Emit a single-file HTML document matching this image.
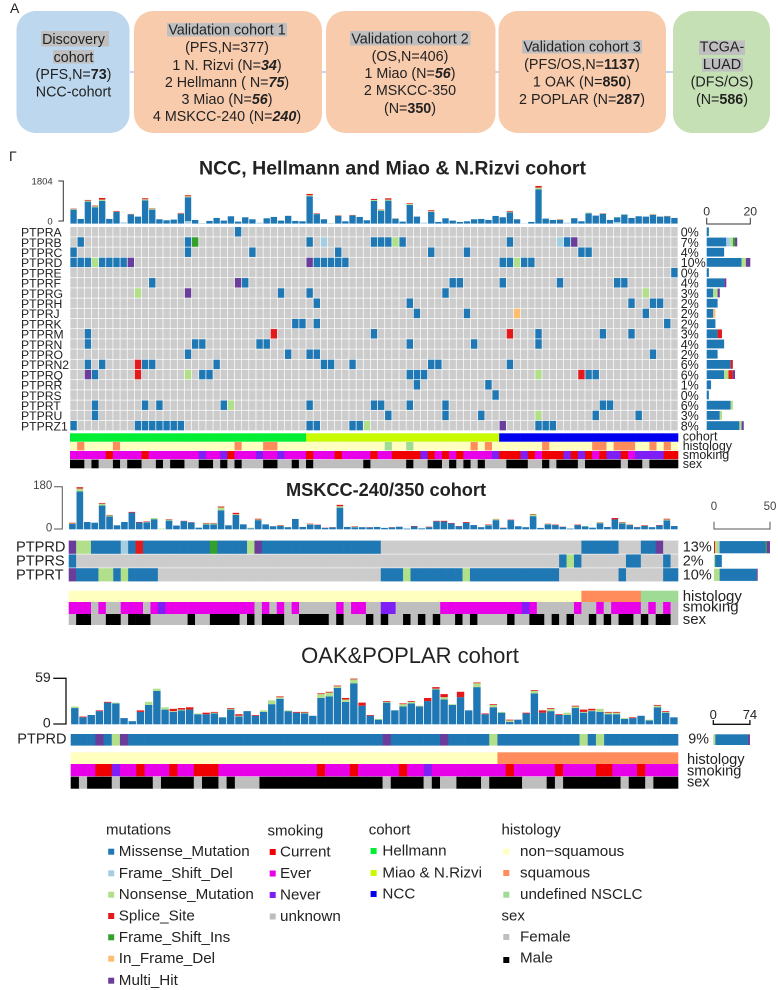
<!DOCTYPE html>
<html lang="en">
<head>
<meta charset="utf-8">
<title>Cohort overview and oncoplots</title>
<style>
html,body{margin:0;padding:0;background:#fff;}
svg{display:block;font-family:"Liberation Sans",Arial,sans-serif;filter:blur(0.3px);}
text{fill:#222;}
.box{font-size:14.3px;text-anchor:middle;}
.lg{font-size:15.2px;dominant-baseline:central;}
.lh{font-size:15px;dominant-baseline:central;}
</style>
</head>
<body>
<svg id="fig" xmlns="http://www.w3.org/2000/svg" width="778" height="990" viewBox="0 0 778 990">
  <text x="10" y="13" font-size="14">A</text>
  <text x="9" y="161" font-size="14">Γ</text>

  <g>
    <line x1="130" y1="72" x2="134" y2="72" stroke="#8FAADC"/>
    <line x1="322" y1="72" x2="326" y2="72" stroke="#8FAADC"/>
    <line x1="495" y1="72" x2="499" y2="72" stroke="#8FAADC"/>
    <line x1="666" y1="72" x2="673" y2="72" stroke="#8FAADC"/>

    <g>
      <rect x="16.5" y="11" width="113" height="122" rx="19" fill="#BDD7EE"/>
      <rect x="41" y="31" width="68" height="15.5" fill="#BFBFBF"/>
      <rect x="53" y="50" width="41" height="13.5" fill="#BFBFBF"/>
      <text class="box" x="73.5" y="44">Discovery</text>
      <text class="box" x="73.5" y="62">cohort</text>
      <text class="box" x="73.5" y="79">(PFS,N=<tspan font-weight="bold">73</tspan>)</text>
      <text class="box" x="73.5" y="96.5">NCC-cohort</text>
    </g>
    <g>
      <rect x="134" y="11" width="188" height="122" rx="19" fill="#F8CBAD"/>
      <rect x="167" y="23" width="120" height="13.5" fill="#BFBFBF"/>
      <text class="box" x="227" y="34.5">Validation cohort 1</text>
      <text class="box" x="227" y="52">(PFS,N=377)</text>
      <text class="box" x="227" y="70">1 N. Rizvi (N=<tspan font-weight="bold" font-style="italic">34</tspan>)</text>
      <text class="box" x="227" y="87">2 Hellmann ( N=<tspan font-weight="bold" font-style="italic">75</tspan>)</text>
      <text class="box" x="227" y="104">3 Miao (N=<tspan font-weight="bold" font-style="italic">56</tspan>)</text>
      <text class="box" x="227" y="121">4 MSKCC-240 (N=<tspan font-weight="bold" font-style="italic">240</tspan>)</text>
    </g>
    <g>
      <rect x="326" y="11" width="169.5" height="122" rx="19" fill="#F8CBAD"/>
      <rect x="350" y="31" width="120.5" height="14.5" fill="#BFBFBF"/>
      <text class="box" x="410" y="43.5">Validation cohort 2</text>
      <text class="box" x="410" y="61">(OS,N=406)</text>
      <text class="box" x="410" y="78">1 Miao (N=<tspan font-weight="bold" font-style="italic">56</tspan>)</text>
      <text class="box" x="410" y="95">2 MSKCC-350</text>
      <text class="box" x="410" y="113">(N=<tspan font-weight="bold">350</tspan>)</text>
    </g>
    <g>
      <rect x="498.5" y="11" width="167.5" height="122" rx="19" fill="#F8CBAD"/>
      <rect x="522" y="40" width="120" height="13.5" fill="#BFBFBF"/>
      <text class="box" x="582" y="51.5">Validation cohort 3</text>
      <text class="box" x="582" y="69">(PFS/OS,N=<tspan font-weight="bold">1137</tspan>)</text>
      <text class="box" x="582" y="86.5">1 OAK (N=<tspan font-weight="bold">850</tspan>)</text>
      <text class="box" x="582" y="104">2 POPLAR (N=<tspan font-weight="bold">287</tspan>)</text>
    </g>
    <g>
      <rect x="673" y="11" width="97" height="122" rx="19" fill="#C5E0B4"/>
      <rect x="699" y="40.5" width="46" height="14.5" fill="#BFBFBF"/>
      <rect x="702" y="58" width="41" height="13.5" fill="#BFBFBF"/>
      <text class="box" x="722" y="51.5">TCGA-</text>
      <text class="box" x="722" y="69">LUAD</text>
      <text class="box" x="722" y="86.5">(DFS/OS)</text>
      <text class="box" x="722" y="104">(N=<tspan font-weight="bold">586</tspan>)</text>
    </g>
  </g>

  <text x="392.5" y="174.5" text-anchor="middle" font-size="19" font-weight="bold" textLength="387" lengthAdjust="spacingAndGlyphs">NCC, Hellmann and Miao &amp; N.Rizvi cohort</text>
  <text x="386" y="496" text-anchor="middle" font-size="18.2" font-weight="bold">MSKCC-240/350 cohort</text>
  <text x="410" y="663" text-anchor="middle" font-size="22">OAK&amp;POPLAR cohort</text>

  <g id="panels"></g>

  <g>
    <g>
      <text class="lh" x="106" y="830">mutations</text>
      <rect x="108.2" y="848.7" width="6" height="6" fill="#1F78B4"/><text class="lg" x="118.8" y="851.7">Missense_Mutation</text>
      <rect x="108.2" y="870.3" width="6" height="6" fill="#A6CEE3"/><text class="lg" x="118.8" y="873.3">Frame_Shift_Del</text>
      <rect x="108.2" y="891.7" width="6" height="6" fill="#B2DF8A"/><text class="lg" x="118.8" y="894.7">Nonsense_Mutation</text>
      <rect x="108.2" y="913" width="6" height="6" fill="#E31A1C"/><text class="lg" x="118.8" y="916">Splice_Site</text>
      <rect x="108.2" y="934.3" width="6" height="6" fill="#33A02C"/><text class="lg" x="118.8" y="937.3">Frame_Shift_Ins</text>
      <rect x="108.2" y="955.7" width="6" height="6" fill="#FDBF6F"/><text class="lg" x="118.8" y="958.7">In_Frame_Del</text>
      <rect x="108.2" y="977.7" width="6" height="6" fill="#6A3D9A"/><text class="lg" x="118.8" y="980.7">Multi_Hit</text>
    </g>
    <g>
      <text class="lh" x="267.5" y="831">smoking</text>
      <rect x="269.7" y="849" width="6" height="6" fill="#F00000"/><text class="lg" x="280" y="852">Current</text>
      <rect x="269.7" y="870.5" width="6" height="6" fill="#E800E8"/><text class="lg" x="280" y="873.5">Ever</text>
      <rect x="269.7" y="892" width="6" height="6" fill="#7F1FF5"/><text class="lg" x="280" y="895">Never</text>
      <rect x="269.7" y="913.5" width="6" height="6" fill="#BEBEBE"/><text class="lg" x="280" y="916.5">unknown</text>
    </g>
    <g>
      <text class="lh" x="368.7" y="830">cohort</text>
      <rect x="370.6" y="848" width="6" height="6" fill="#00EE33"/><text class="lg" x="382.4" y="851">Hellmann</text>
      <rect x="370.6" y="870" width="6" height="6" fill="#C8FA00"/><text class="lg" x="382.4" y="873">Miao &amp; N.Rizvi</text>
      <rect x="370.6" y="891" width="6" height="6" fill="#0000EE"/><text class="lg" x="382.4" y="894">NCC</text>
    </g>
    <g>
      <text class="lh" x="501.5" y="830">histology</text>
      <rect x="503.3" y="848.7" width="6" height="6" fill="#FFFFC0"/><text class="lg" x="520" y="851.7">non−squamous</text>
      <rect x="503.3" y="870" width="6" height="6" fill="#FF8C5A"/><text class="lg" x="520" y="873">squamous</text>
      <rect x="503.3" y="891.7" width="6" height="6" fill="#9FDB95"/><text class="lg" x="520" y="894.7">undefined NSCLC</text>
    </g>
    <g>
      <text class="lh" x="501.5" y="916">sex</text>
      <rect x="503.3" y="934" width="6" height="6" fill="#BEBEBE"/><text class="lg" x="520" y="937">Female</text>
      <rect x="503.3" y="957" width="6" height="6" fill="#000"/><text class="lg" x="520" y="958">Male</text>
    </g>
  </g>
</svg>

<script>
// ---- Panel 1 data: NCC, Hellmann and Miao & N.Rizvi ----
const p1Genes = ['PTPRA','PTPRB','PTPRC','PTPRD','PTPRE','PTPRF','PTPRG','PTPRH','PTPRJ','PTPRK','PTPRM','PTPRN','PTPRO','PTPRN2','PTPRQ','PTPRR','PTPRS','PTPRT','PTPRU','PTPRZ1'];
const p1Percent = ['0%','7%','4%','10%','0%','4%','3%','2%','2%','2%','3%','4%','2%','6%','6%','1%','0%','6%','3%','8%'];
const p1Mutations = [
 '23M',
 '1M 16M 17I 33M 35D 42M 43M 44M 45N 46M 61M 68D 69M 70H',
 '0M 16M 25M 37M 50M 55M 71M 72M',
 '0M 1M 2M 3N 4M 5M 6M 7M 8H 33H 34M 35M 36M 37M 38M 60M 61M 62N 63M 64M',
 '84M',
 '11M 23H 24M 53M 54M 60M 68M 76M 77M',
 '9N 16H 29M 33M 52M 80N',
 '34M 47M 78M 81M 82M',
 '48M 55M 62F 80M',
 '31M 32M 34M 83M',
 '2M 28S 42M 61S 65M 74M 78M',
 '2M 17M 18M 26M 27M 47M 56M 65M',
 '16M 30M 33M 34M 81M',
 '2M 4M 9S 10M 11M 20M 35M 36M 39M 50M 51M 61M',
 '2H 3M 9S 16N 18M 19M 47M 48M 49M 65N 71S 72M 73M',
 '48M 58M',
 '59M',
 '3M 10M 12M 21M 22N 33M 42M 43M 47M 52M 74M 75M',
 '3M 44M 52M 57M 65N 73M 79M',
 '0M 9M 10M 11M 12M 13M 14M 15M 33M 34M 39M 40M 41N 60H 65M 66M 67M'
];
const p1Totals = [630,196,994,756,1078,196,532,56,406,294,1064,644,182,140,168,448,1190,154,28,112,238,126,308,84,266,182,42,224,280,126,336,112,98,1246,434,182,28,350,98,364,280,140,1036,588,1064,224,84,854,294,42,560,70,224,126,70,98,182,196,154,322,266,532,182,14,70,1582,210,154,182,42,238,98,462,336,434,154,280,392,238,308,294,392,294,322,238];
const p1Nonsense = [28,0,40,40,50,0,14,0,10,0,45,42,0,0,0,14,40,0,0,0,0,0,0,0,0,0,0,0,0,0,10,0,0,40,14,0,0,10,0,10,0,0,40,30,42,14,0,42,0,0,28,0,0,0,0,0,0,0,0,0,0,28,0,0,0,70,0,0,14,0,10,0,28,0,14,0,14,14,0,0,0,14,0,10,0];
const p1Splice = [14,0,30,28,70,0,28,0,14,0,42,14,0,0,0,20,42,0,0,0,0,0,0,0,0,0,0,0,0,0,0,0,0,56,20,0,0,14,0,14,0,0,42,14,56,0,0,28,0,0,40,0,0,0,0,0,0,0,0,0,0,30,0,0,0,70,0,0,10,0,0,0,0,0,14,0,0,0,0,0,0,10,0,10,0];
const p1FrameDel = [0,0,0,0,0,0,0,56,0,0,0,0,0,0,0,0,110,0,28,0,0,0,0,0,0,0,42,0,0,0,0,0,0,0,0,0,28,0,0,0,0,0,0,0,0,0,0,0,0,42,0,0,0,0,0,0,0,0,0,0,0,0,0,14,0,0,0,0,0,42,0,0,0,0,0,0,60,0,0,0,0,0,0,0,0];
const p1Cohort = 'H33 Y27 B25'.split(' ');
const p1Histology = 'N1 S1 N4 S1 N16 S1 N3 S2 N15 U1 N2 U1 N8 S1 N1 S1 N7 S1 N6 S2 N1 S3 N2 S1 N1 S1 N1'.split(' ');
const p1Smoking = 'E5 C1 E4 C1 E7 N1 E2 N1 C1 E3 N1 E2 N1 E3 C1 E3 C1 E4 C1 E2 C4 N1 C1 E1 C1 E1 C1 E4 N1 C3 N1 C1 E1 C3 N1 C1 N1 C1 E1 C1 N2 C1 E1 N4 C2'.split(' ');
const p1Sex = 'M2 F1 M1 F2 M1 F1 M2 F2 M1 F1 M2 F2 M2 F1 M1 F1 M1 F3 M2 F2 M1 F1 M1 F7 M1 F5 M1 F2 M2 F1 M1 F1 M1 F1 M1 F3 M3 F2 M1 F1 M3 F1 M5 F1 M2 F1 M4'.split(' ');
const p1YTicks = [0, 1804];
const p1SideTicks = [0, 20];

// ---- Panel 2 data: MSKCC-240/350 ----
const p2Genes = ['PTPRD','PTPRS','PTPRT'];
const p2Percent = ['13%','2%','10%'];
const p2Rows = [
 'H1 N2 M4 D1 M1 S1 M9 I1 M4 N1 H1 M16 .27 M5 .3 M2 H1 .2',
 'M1 .65 M1 N1 M1 .6 M2 .3 M1 .1',
 'H1 M3 N2 M1 N1 M4 .30 M3 N1 M7 N1 M12 .8 M1 .5 M2'
];
const p2Totals = [28,179,31,28,112,61,17,31,74,31,34,48,3,43,16,36,30,7,27,27,97,17,70,21,7,45,21,13,18,9,44,10,24,20,7,9,104,10,13,9,9,10,6,9,11,3,14,4,11,36,36,27,14,31,18,9,21,44,7,41,13,9,65,6,24,20,11,3,20,14,7,30,10,48,31,21,10,18,9,18,45,14];
const p2Nonsense = [2,12,0,0,8,4,0,0,0,0,2,5,3,4,0,0,0,0,4,4,12,0,3,0,3,3,0,0,2,0,0,0,2,0,0,0,6,0,2,0,0,0,0,0,0,0,0,0,0,0,0,0,0,0,0,0,2,4,0,0,0,0,7,0,2,0,0,0,0,2,0,3,0,0,4,2,0,2,0,0,4,0];
const p2Splice = [3,6,0,0,3,2,0,0,3,2,2,0,0,2,0,1,1,0,2,2,4,0,6,0,0,3,0,0,2,0,0,0,2,1,1,1,6,0,2,0,1,0,0,1,0,0,2,0,2,2,3,2,1,3,0,0,2,1,1,2,0,0,2,0,1,2,1,0,2,0,0,1,0,6,2,1,1,2,0,2,3,0];
const p2Histology = 'N69 S8 U5'.split(' ');
const p2Smoking = 'E3 U1 E1 U2 E3 U1 E1 N1 E12 U1 E1 U1 E1 U1 E1 U5 E1 U1 E2 U2 N2 U6 E11 N1 E1 U5 E1 U2 E1 U1 E4 U1 E1 U1 E1 U1'.split(' ');
const p2Sex = 'F1 M2 F2 M2 F1 M3 F5 M1 F2 M4 F1 M1 F1 M3 F2 M4 F1 M1 F3 M1 F1 M1 F2 M1 F1 M1 F1 M1 F2 M1 F1 M1 F4 M1 F2 M2 F1 M1 F1 M1 F2 M1 F1 M1 F1 M2 F1 M1 F1 M2 F1'.split(' ');
const p2YTicks = [0, 180];
const p2SideTicks = [0, 50];

// ---- Panel 3 data: OAK & POPLAR ----
const p3Genes = ['PTPRD'];
const p3Percent = ['9%'];
const p3Rows = ['M3 H1 M1 N1 H1 M31 H1 M6 H1 M5 N1 M10 N1 M1 N1 M9'];
const p3Totals = [23,10,12,18,29,28,8,4,18,29,46,22,20,21,22,14,15,16,9,21,13,17,12,18,31,36,18,16,16,11,40,42,50,34,59,28,12,7,30,18,27,30,24,34,48,39,26,42,18,54,14,26,16,6,6,15,44,18,21,13,15,24,19,20,20,16,16,8,9,11,6,25,17,9];
const p3Nonsense = [2,0,0,0,0,1,0,0,0,4,3,3,1,1,0,1,0,1,0,1,1,0,0,2,5,2,1,0,1,0,5,5,2,3,5,0,0,1,1,0,3,2,1,0,1,3,1,0,0,5,0,3,1,2,0,0,3,0,3,0,3,2,1,1,4,2,2,1,0,0,1,2,1,0];
const p3Splice = [0,1,0,1,1,0,0,0,2,0,0,0,3,2,3,0,2,1,0,1,2,0,1,0,0,1,0,1,1,0,1,1,1,2,1,4,1,0,1,0,1,1,0,4,2,4,0,7,0,1,1,1,0,1,0,1,1,3,1,1,0,1,3,2,0,1,1,0,1,0,0,1,1,0];
const p3Histology = 'N52 S22'.split(' ');
const p3Smoking = 'E3 C2 N1 E2 C1 E3 C1 E2 C3 E12 C1 E3 C1 E5 C1 E2 N1 E9 C1 E5 C1 E4 C2 E3 C1 E4'.split(' ');
const p3Sex = 'M1 F1 M3 F1 M4 F1 M4 F1 M2 F1 M1 F3 M15 F1 M4 F1 M1 F2 M3 F1 M4 F3 M1 F1 M7 F1 M2 F1 M3'.split(' ');
const p3YTicks = [0, 59];
const p3SideTicks = [0, 74];

// ---- Colours ----
const mutColor = {M:'#1F78B4',D:'#A6CEE3',N:'#B2DF8A',S:'#E31A1C',I:'#33A02C',F:'#FDBF6F',H:'#6A3D9A'};
const cohortColor = {H:'#00EE33',Y:'#C8FA00',B:'#0000EE'};
const histColor = {N:'#FFFFC0',S:'#FF8C5A',U:'#9FDB95'};
const smokeColor = {C:'#F00000',E:'#E800E8',N:'#7F1FF5',U:'#BEBEBE'};
const sexColor = {F:'#BEBEBE',M:'#000000'};

const NS = 'http://www.w3.org/2000/svg';
const root = document.getElementById('panels');

function addRect(parent, x, y, w, h, fill, name) {
  const el = document.createElementNS(NS, 'rect');
  el.setAttribute('x', x.toFixed(2));
  el.setAttribute('y', y.toFixed(2));
  el.setAttribute('width', Math.max(w, 0).toFixed(2));
  el.setAttribute('height', Math.max(h, 0).toFixed(2));
  el.setAttribute('fill', fill);
  
  
  parent.appendChild(el);
  return el;
}
function addText(parent, x, y, str, size, name, anchor, color) {
  const el = document.createElementNS(NS, 'text');
  el.setAttribute('x', x);
  el.setAttribute('y', y);
  el.setAttribute('font-size', size);
  el.setAttribute('dominant-baseline', 'central');
  if (anchor) el.setAttribute('text-anchor', anchor);
  if (color) el.setAttribute('style', 'fill:' + color);
  el.textContent = str;
  
  
  parent.appendChild(el);
  return el;
}
function addPath(parent, d, color, width, name) {
  const el = document.createElementNS(NS, 'path');
  el.setAttribute('d', d);
  el.setAttribute('fill', 'none');
  el.setAttribute('stroke', color);
  el.setAttribute('stroke-width', width);
  
  
  parent.appendChild(el);
  return el;
}
function addGroup(name) {
  const el = document.createElementNS(NS, 'g');
  
  
  root.appendChild(el);
  return el;
}
function expandRuns(runs) {
  const out = [];
  runs.forEach(function (r) {
    const n = parseInt(r.slice(1), 10);
    for (let i = 0; i < n; i++) out.push(r[0]);
  });
  return out;
}
function rowFromList(list, n) {
  const out = new Array(n).fill('.');
  list.split(' ').forEach(function (t) {
    out[parseInt(t, 10)] = t.slice(-1);
  });
  return out;
}

function drawPanel(c) {
  const g = addGroup(c.id);
  const n = c.totals.length;
  const cw = (c.x1 - c.x0) / n;
  const xCol = function (i) { return c.x0 + i * cw; };

  // top stacked bars
  const yLen = function (v) { return v * c.barScale; };
  c.totals.forEach(function (t, i) {
    const fd = c.frameDel ? c.frameDel[i] : 0;
    const ns = c.nonsense[i];
    const sp = c.splice[i];
    const mi = Math.max(t - fd - ns - sp, 0);
    let y = c.barBase;
    [[fd, 'D', 'bar-frame-shift-del'], [mi, 'M', 'bar-missense'], [ns, 'N', 'bar-nonsense'], [sp, 'S', 'bar-splice']].forEach(function (s) {
      if (s[0] <= 0) return;
      const h = yLen(s[0]);
      y -= h;
      addRect(g, xCol(i) + c.barGap / 2, y, cw - c.barGap, h, mutColor[s[1]], s[2]);
    });
  });

  // left y axis
  const yAxis = function (v) {
    return c.axisBottom - (v / c.yTicks[1]) * (c.axisBottom - c.axisTop);
  };
  addPath(g, 'M' + c.axisTickX + ' ' + yAxis(c.yTicks[1]) + 'H' + c.axisX + 'V' + yAxis(c.yTicks[0]) + 'H' + c.axisTickX, c.axisColor, c.axisWidth, 'y-axis');
  c.yTicks.forEach(function (t) {
    addText(g, c.axisLabelX, yAxis(t) + c.labelShift, String(t), c.yFont, 'y-tick-label', 'end', c.axisLabelColor);
  });

  // oncoprint grid
  const rh = (c.gridBottom - c.gridTop) / c.genes.length;
  const sideX = function (v) { return c.sideX0 + v * c.sideScale; };
  c.rows.forEach(function (row, r) {
    const y = c.gridTop + r * rh;
    row.forEach(function (code, i) {
      const fill = code === '.' ? '#CCCCCC' : mutColor[code];
      addRect(g, xCol(i) + c.cellGap / 2, y + c.cellGapY / 2, cw - c.cellGap + (c.cellGap ? 0 : 0.3), rh - c.cellGapY + (c.cellGapY ? 0 : 0.3), fill, code === '.' ? 'grid-cell' : 'mutation-cell');
    });
    addText(g, c.geneX, y + rh / 2 + c.geneShift, c.genes[r], c.geneFont, 'gene-label');
    addText(g, c.pctX, y + rh / 2 + c.geneShift, c.percent[r], c.pctFont, 'percent-label');

    // side bars derive from the grid row counts
    let acc = 0;
    c.sideOrder.forEach(function (code) {
      const count = row.filter(function (v) { return v === code; }).length;
      if (!count) return;
      addRect(g, sideX(acc), y + c.sideInset, count * c.sideScale, rh - 2 * c.sideInset, mutColor[code], 'side-bar-segment');
      acc += count;
    });
  });

  // side axis
  const sa = sideX(c.sideTicks[0]), sb = sideX(c.sideTicks[1]);
  addPath(g, 'M' + sa + ' ' + c.sideTickTop + 'V' + c.sideAxisY + 'H' + sb + 'V' + c.sideTickTop, c.axisColor, c.axisWidth, 'side-axis');
  c.sideTicks.forEach(function (t) {
    addText(g, sideX(t), c.sideLabelY, String(t), c.sideFont, 'side-tick-label', 'middle', c.axisLabelColor);
  });

  // annotation tracks
  c.tracks.forEach(function (t) {
    expandRuns(t.runs).forEach(function (code, i) {
      addRect(g, xCol(i), t.y, cw + 0.3, t.h, t.colors[code], t.name + '-cell');
    });
    addText(g, c.trackLabelX, t.labelY, t.name, c.trackFont, t.name + '-track-label');
  });
}

drawPanel({
  id:'panel-ncc-hellmann-miao', totals:p1Totals, frameDel:p1FrameDel, nonsense:p1Nonsense, splice:p1Splice,
  genes:p1Genes, percent:p1Percent, yTicks:p1YTicks, sideTicks:p1SideTicks,
  rows:p1Mutations.map(function (l) { return rowFromList(l, p1Totals.length); }),
  x0:70, x1:678, barBase:223.6, barScale:0.0238, barGap:0.8,
  axisX:63.3, axisTickX:58.3, axisTop:181, axisBottom:221, axisColor:'#333', axisWidth:1, axisLabelX:52.7, axisLabelColor:'#333', labelShift:1, yFont:9.5,
  gridTop:226.7, gridBottom:430.7, cellGap:0.7, cellGapY:0.7, geneX:21, geneFont:12.2, geneShift:0.8, pctX:680.7, pctFont:12.5,
  sideX0:706.7, sideScale:2.18, sideInset:0.7, sideOrder:['M','D','N','S','I','F','H'],
  sideTickTop:217.7, sideAxisY:224, sideLabelY:211.7, sideFont:12.3,
  trackLabelX:682.7, trackFont:12.5,
  tracks:[
    {name:'cohort', runs:p1Cohort, colors:cohortColor, y:433.3, h:8.4, labelY:436.7},
    {name:'histology', runs:p1Histology, colors:histColor, y:442, h:8.4, labelY:446},
    {name:'smoking', runs:p1Smoking, colors:smokeColor, y:451, h:8.2, labelY:455},
    {name:'sex', runs:p1Sex, colors:sexColor, y:459.7, h:8.6, labelY:464}
  ]
});

drawPanel({
  id:'panel-mskcc', totals:p2Totals, nonsense:p2Nonsense, splice:p2Splice,
  genes:p2Genes, percent:p2Percent, yTicks:p2YTicks, sideTicks:p2SideTicks,
  rows:p2Rows.map(function (l) { return expandRuns(l.split(' ')); }),
  x0:68.7, x1:678, barBase:529.3, barScale:0.2352, barGap:0.8,
  axisX:62.3, axisTickX:54, axisTop:486.7, axisBottom:529, axisColor:'#555', axisWidth:1, axisLabelX:52.3, axisLabelColor:'#444', labelShift:-0.5, yFont:11.5,
  gridTop:540.3, gridBottom:581.7, cellGap:0, cellGapY:0.6, geneX:16, geneFont:14.6, geneShift:0.5, pctX:682.7, pctFont:14.5,
  sideX0:714, sideScale:1.12, sideInset:0.8, sideOrder:['S','N','D','M','I','H'],
  sideTickTop:521.7, sideAxisY:529, sideLabelY:507, sideFont:11.5,
  trackLabelX:682.7, trackFont:15,
  tracks:[
    {name:'histology', runs:p2Histology, colors:histColor, y:590.7, h:11.5, labelY:596.7},
    {name:'smoking', runs:p2Smoking, colors:smokeColor, y:602, h:12, labelY:607},
    {name:'sex', runs:p2Sex, colors:sexColor, y:614, h:11, labelY:619.3}
  ]
});

drawPanel({
  id:'panel-oak-poplar', totals:p3Totals, nonsense:p3Nonsense, splice:p3Splice,
  genes:p3Genes, percent:p3Percent, yTicks:p3YTicks, sideTicks:p3SideTicks,
  rows:p3Rows.map(function (l) { return expandRuns(l.split(' ')); }),
  x0:70.7, x1:678, barBase:724.3, barScale:0.7746, barGap:0.8,
  axisX:66, axisTickX:53.3, axisTop:678.3, axisBottom:724, axisColor:'#111', axisWidth:1.3, axisLabelX:50.7, axisLabelColor:'#222', labelShift:-1.5, yFont:14,
  gridTop:734, gridBottom:745.3, cellGap:0, cellGapY:0, geneX:17.3, geneFont:14.5, geneShift:0, pctX:688.3, pctFont:14.3,
  sideX0:713.3, sideScale:0.495, sideInset:0.3, sideOrder:['N','M','H'],
  sideTickTop:720, sideAxisY:724.3, sideLabelY:714.5, sideFont:13,
  trackLabelX:687, trackFont:14.6,
  tracks:[
    {name:'histology', runs:p3Histology, colors:histColor, y:752.3, h:11.7, labelY:760},
    {name:'smoking', runs:p3Smoking, colors:smokeColor, y:764, h:12.3, labelY:771.7},
    {name:'sex', runs:p3Sex, colors:sexColor, y:776.7, h:12, labelY:782.7}
  ]
});
</script>
</body>
</html>
